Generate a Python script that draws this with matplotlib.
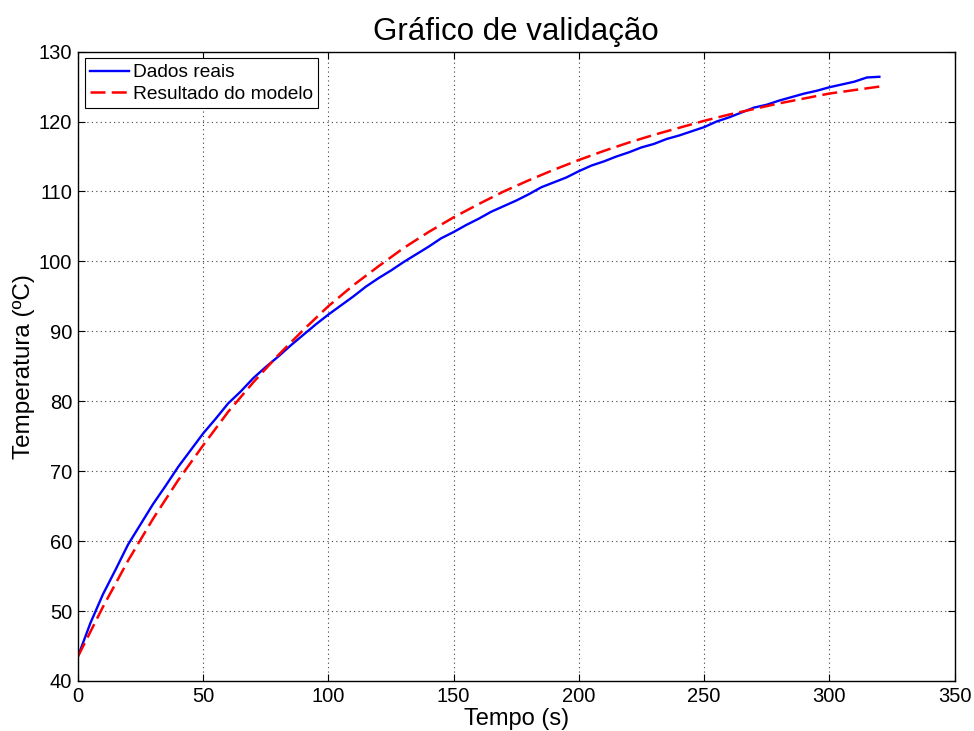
import numpy as np
import matplotlib
matplotlib.use("Agg")
import matplotlib.pyplot as plt

tempo_real = list(range(0, 325, 5))
temp_real = [
    43.5, 48.3, 52.4, 55.9, 59.5, 62.4, 65.3, 67.9, 70.6, 73.0,
    75.4, 77.5, 79.7, 81.4, 83.3, 84.9, 86.4, 88.0, 89.5, 91.0,
    92.4, 93.7, 95.0, 96.4, 97.6, 98.7, 99.9, 101.0, 102.1, 103.3,
    104.2, 105.2, 106.1, 107.1, 107.9, 108.7, 109.6, 110.6, 111.3, 112.0,
    112.9, 113.7, 114.3, 115.0, 115.6, 116.3, 116.8, 117.5, 118.0, 118.6,
    119.2, 120.0, 120.6, 121.3, 122.0, 122.4, 123.0, 123.5, 124.0, 124.4,
    124.9, 125.3, 125.7, 126.3, 126.4,
]

# Model output (red dashed), every 10 s
tempo_modelo = list(range(0, 330, 10))
temp_modelo = [
    43.5, 50.6, 57.2, 63.2, 68.7, 73.7, 78.5, 82.7, 86.6, 90.2,
    93.6, 96.6, 99.3, 101.9, 104.2, 106.3, 108.2, 110.0, 111.6, 113.1,
    114.5, 115.8, 117.0, 118.1, 119.1, 120.1, 121.0, 121.8, 122.6, 123.3,
    124.0, 124.5, 125.0,
]

plt.rcParams["font.family"] = ["Liberation Sans", "DejaVu Sans"]

fig = plt.figure(figsize=(9.74, 7.31), dpi=100)
ax = fig.add_axes([0.080, 0.0684, 0.900, 0.861])

ax.plot(tempo_real, temp_real, color="#0000ff", linewidth=1.7, label="Dados reais")
ax.plot(tempo_modelo, temp_modelo, color="#ff0000", linewidth=1.8,
        linestyle=(0, (6, 2.5)), label="Resultado do modelo")

ax.set_xlim(0, 350)
ax.set_ylim(40, 130)
ax.set_xticks(np.arange(0, 351, 50))
ax.set_yticks(np.arange(40, 131, 10))
ax.tick_params(direction="in", top=True, right=True, labelsize=14.5, length=5, pad=4)
ax.grid(True, color="#404040", linestyle=(0, (1, 3)), linewidth=0.8)
for s in ax.spines.values():
    s.set_color("black")
    s.set_linewidth(1.0)

ax.set_xlabel("Tempo (s)", fontsize=17, labelpad=2)
ax.set_ylabel("Temperatura (ºC)", fontsize=17.5, labelpad=3)
ax.set_title("Gráfico de validação", fontsize=22.5, pad=8)

leg = ax.legend(loc="upper left", fontsize=13.8, fancybox=False, framealpha=1,
                edgecolor="black", handlelength=2.0, handletextpad=0.2,
                borderpad=0.3, labelspacing=0.2, borderaxespad=0.35)
leg.get_frame().set_linewidth(0.8)

fig.savefig("out.png", dpi=100, facecolor="white")
